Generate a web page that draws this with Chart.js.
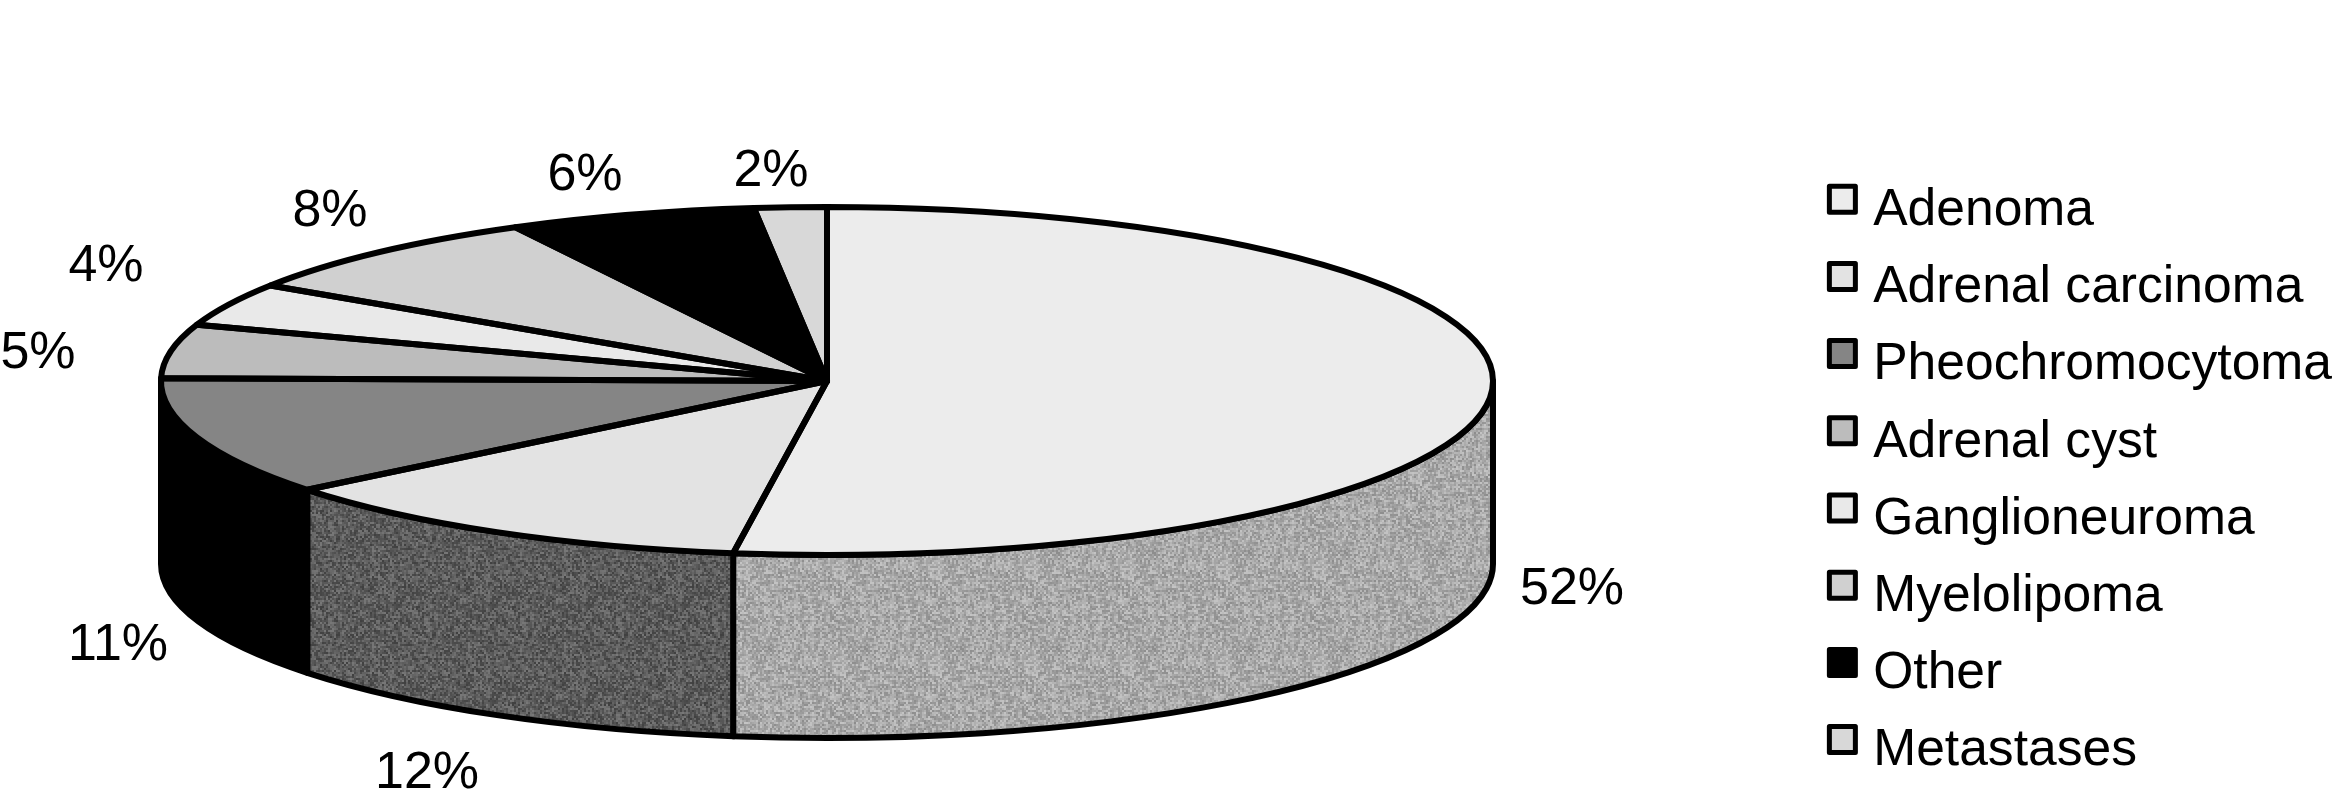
<!DOCTYPE html>
<html>
<head>
<meta charset="utf-8">
<title>Adrenal lesions</title>
<script src="https://cdn.jsdelivr.net/npm/chart.js@4"></script>
<style>
    html, body { margin: 0; padding: 0; background: #fff; overflow: hidden; }
    #wrap { width: 2352px; height: 800px; }
</style>
</head>
<body>
<div id="wrap"><canvas id="pieChart"></canvas></div>
<script>
// --- DATA ---
const categories = ['Adenoma', 'Adrenal carcinoma', 'Pheochromocytoma', 'Adrenal cyst',
    'Ganglioneuroma', 'Myelolipoma', 'Other', 'Metastases'];
const shares = [52.25, 12, 11, 5, 4, 8, 6, 1.75];

// --- STYLE ---
const faceColors = ['#ececec', '#e3e3e3', '#858585', '#bcbcbc', '#e9e9e9', '#d0d0d0', '#000000', '#d8d8d8'];
const wallColors = ['#a9a9a9', '#5c5c5c', '#000000', '#bcbcbc', '#e9e9e9', '#d0d0d0', '#000000', '#d8d8d8'];
const labelCenters = [[1572, 590], [427, 774], [118, 646], [38, 354], [106, 267], [330, 212], [585, 176], [771, 172]];

// flattened disc on the page
const disc = { x: 827, y: 381, rx: 666, ry: 174, depth: 183 };
const outline = 6;
const swatchSize = 26;
const fontFamily = '"Liberation Sans", Arial, sans-serif';

// grainy tile for the scanned looking side wall (fixed sequence, same on every run)
function grainPattern(ctx, hex) {
    const base = parseInt(hex.slice(1, 3), 16);
    if (base === 0) return hex;
    const size = 96;
    const tile = document.createElement('canvas');
    tile.width = tile.height = size;
    const tileCtx = tile.getContext('2d');
    let seed = base * 97 + 13;
    for (let y = 0; y < size; y += 2) {
        for (let x = 0; x < size; x += 2) {
            seed = (seed * 1103515245 + 12345) % 2147483648;
            const g = Math.max(0, Math.min(255, base + ((seed >> 8) % 57) - 28));
            tileCtx.fillStyle = `rgb(${g},${g},${g})`;
            tileCtx.fillRect(x, y, 2, 2);
        }
    }
    return ctx.createPattern(tile, 'repeat');
}

// --- PLUGIN: squash the library's arcs into a disc with a wall ---
const discPlugin = {
    id: 'disc',
    beforeDatasetsDraw(chart) {
        const ctx = chart.ctx;
        const arcs = chart.getDatasetMeta(0).data;

        // side wall, only the front half of the disc shows
        ctx.save();
        ctx.lineWidth = outline;
        ctx.strokeStyle = '#000';
        ctx.lineJoin = 'round';
        arcs.forEach((arc, i) => {
            const a = Math.max(arc.startAngle, 0);
            const b = Math.min(arc.endAngle, Math.PI);
            if (b <= a) return;
            ctx.beginPath();
            ctx.ellipse(disc.x, disc.y, disc.rx, disc.ry, 0, a, b);
            ctx.ellipse(disc.x, disc.y + disc.depth, disc.rx, disc.ry, 0, b, a, true);
            ctx.closePath();
            ctx.fillStyle = grainPattern(ctx, wallColors[i]);
            ctx.fill();
            ctx.stroke();
        });
        ctx.restore();

        // top face goes through the chart's own arc drawing
        const first = arcs[0];
        ctx.save();
        ctx.translate(disc.x, disc.y);
        ctx.scale(disc.rx / first.outerRadius, disc.ry / first.outerRadius);
        ctx.translate(-first.x, -first.y);
    },
    afterDatasetsDraw(chart) {
        const ctx = chart.ctx;
        ctx.restore();

        // outlines stroked without the squash so the pen stays even
        const arcs = chart.getDatasetMeta(0).data;
        ctx.save();
        ctx.lineWidth = outline;
        ctx.strokeStyle = '#000';
        ctx.lineJoin = 'round';
        arcs.forEach(arc => {
            ctx.beginPath();
            ctx.moveTo(disc.x, disc.y);
            ctx.ellipse(disc.x, disc.y, disc.rx, disc.ry, 0, arc.startAngle, arc.endAngle);
            ctx.closePath();
            ctx.stroke();
        });

        // percentage labels
        ctx.fillStyle = '#000';
        ctx.font = `52px ${fontFamily}`;
        ctx.textAlign = 'center';
        ctx.textBaseline = 'middle';
        shares.forEach((v, i) => {
            ctx.fillText(Math.round(v) + '%', labelCenters[i][0], labelCenters[i][1]);
        });

        // legend swatches sit a bit higher than the text
        chart.legend.legendHitBoxes.forEach((box, i) => {
            ctx.fillStyle = faceColors[i];
            ctx.lineWidth = 5;
            ctx.fillRect(box.left + 3, box.top + 4, swatchSize, swatchSize);
            ctx.strokeRect(box.left + 3, box.top + 4, swatchSize, swatchSize);
        });
        ctx.restore();
    }
};

// --- CHART ---
new Chart(document.getElementById('pieChart'), {
    type: 'pie',
    data: {
        labels: categories,
        datasets: [{
            data: shares,
            backgroundColor: faceColors,
            borderWidth: 0,
            clip: false
        }]
    },
    options: {
        responsive: true,
        maintainAspectRatio: false,
        animation: false,
        layout: { padding: { top: 162, right: 10 } },
        plugins: {
            tooltip: { enabled: false },
            legend: {
                display: true,
                position: 'right',
                align: 'start',
                labels: {
                    color: '#000',
                    font: { family: fontFamily, size: 51.6 },
                    boxWidth: 21,
                    boxHeight: 57,
                    padding: 20.2,
                    generateLabels(chart) {
                        return chart.data.labels.map((text, i) => ({
                            text,
                            fillStyle: 'rgba(0,0,0,0)',
                            strokeStyle: 'rgba(0,0,0,0)',
                            lineWidth: 0,
                            index: i
                        }));
                    }
                }
            }
        }
    },
    plugins: [discPlugin]
});
</script>
</body>
</html>
